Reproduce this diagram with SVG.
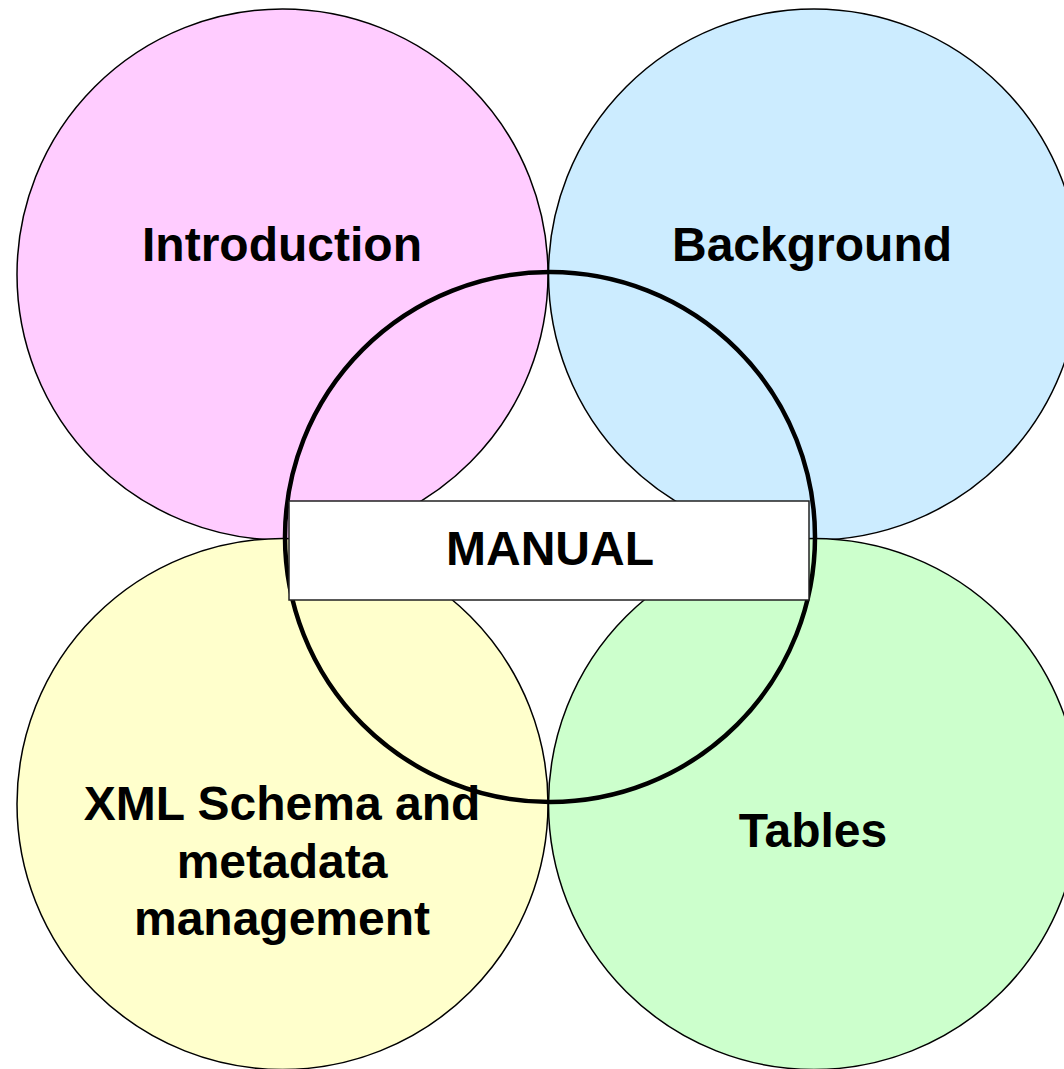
<svg xmlns="http://www.w3.org/2000/svg" width="1064" height="1069" viewBox="0 0 1064 1069">
<style>
.c{stroke:#000;stroke-width:1.5}
.t{font-family:"Liberation Sans",Arial,sans-serif;font-weight:bold;font-size:48px;fill:#000;text-anchor:middle}
</style>
<rect width="1064" height="1069" fill="#fff"/>
<g id="introduction"><circle class="c" cx="282.5" cy="274.5" r="265.5" fill="#FFCCFF"/><text class="t" x="282" y="261">Introduction</text></g>
<g id="background"><circle class="c" cx="814" cy="274.5" r="265.5" fill="#CCECFF"/><text class="t" x="812" y="261">Background</text></g>
<g id="xml"><circle class="c" cx="282.5" cy="804" r="265.5" fill="#FFFFCC"/><text class="t" x="282" y="820">XML Schema and</text><text class="t" x="282" y="877.5">metadata</text><text class="t" x="282" y="935">management</text></g>
<g id="tables"><circle class="c" cx="814" cy="804" r="265.5" fill="#CCFFCC"/><text class="t" x="813" y="847">Tables</text></g>
<g id="manual-circle"><circle cx="550" cy="537" r="265" fill="none" stroke="#000" stroke-width="4.5"/></g>
<g id="manual"><rect x="289" y="501" width="520" height="99" fill="#fff" stroke="#222" stroke-width="1.5"/><text class="t" x="550" y="565">MANUAL</text></g>
<g id="connectors"></g>
</svg>
